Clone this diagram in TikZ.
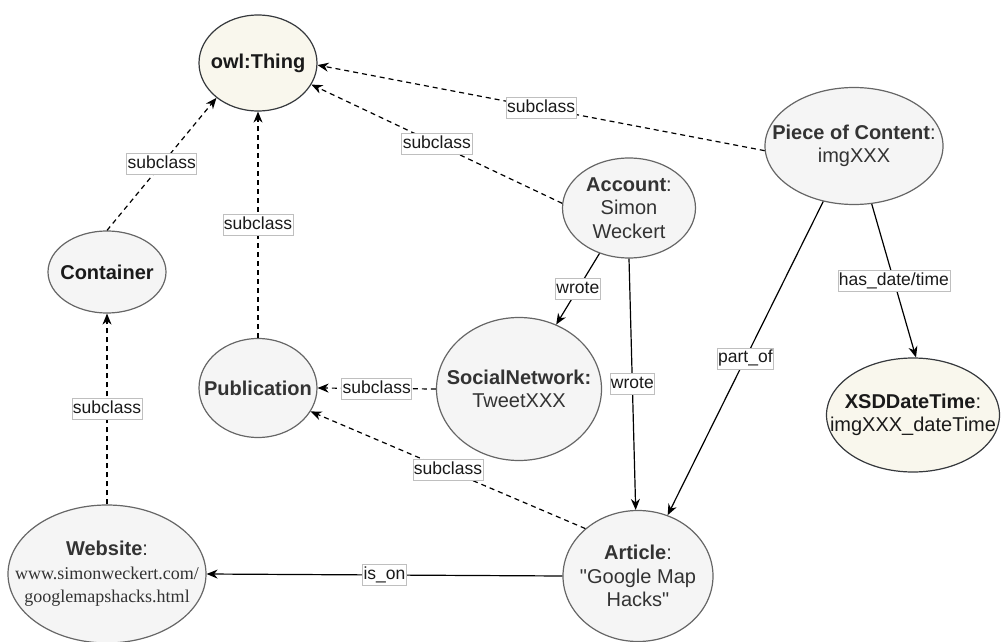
\documentclass[tikz,border=0pt]{standalone}
\usepackage{fontspec}
\setmainfont{Liberation Sans}
\newfontfamily\plainsans{Liberation Sans}
\newfontfamily\serifweb{Liberation Serif}
\usetikzlibrary{shapes.geometric,arrows.meta}
\definecolor{grayfill}{HTML}{F5F5F5}
\definecolor{graystroke}{HTML}{666666}
\definecolor{yelfill}{HTML}{F9F7ED}
\definecolor{yelstroke}{HTML}{36393D}
\definecolor{txtgray}{HTML}{333333}
\definecolor{labborder}{HTML}{BFBFBF}
\definecolor{labtext}{HTML}{1A1A1A}
\newcommand{\dq}{{\plainsans\symbol{34}}}
\begin{document}
\begin{tikzpicture}[x=1pt,y=-1pt,
  ent/.style={ellipse, draw=graystroke, fill=grayfill, line width=1.2pt, inner sep=-40pt,
    align=center, text=txtgray, font=\fontsize{20}{23.5}\selectfont},
  yent/.style={ent, draw=yelstroke, fill=yelfill, text=labtext},
  rel/.style={line width=1.2pt, -{Stealth[length=11pt,width=9pt,inset=3.5pt]}},
  sub/.style={rel, dash pattern=on 5pt off 4pt},
  lab/.style={fill=white, draw=labborder, line width=0.6pt, solid, inner xsep=1pt, inner ysep=2pt,
    text height=13pt, text depth=4pt, text=labtext, font=\fontsize{17.5}{20}\selectfont}]
\useasboundingbox (0,0) rectangle (1002,642);

\node[yent, minimum width=118pt, minimum height=96pt] (owl) at (258,63) {\textbf{owl:Thing}};
\node[ent, text=labtext, minimum width=118pt, minimum height=82pt] (cont) at (107,272) {\textbf{Container}};
\node[ent, minimum width=118pt, minimum height=99pt] (pub) at (258,388) {\textbf{Publication}};
\node[ent, minimum width=133pt, minimum height=100pt] (acc) at (629,208) {\textbf{Account}:\\Simon\\Weckert};
\node[ent, minimum width=178pt, minimum height=117pt] (poc) at (854,146) {\textbf{Piece of Content}:\\imgXXX};
\node[ent, minimum width=165pt, minimum height=143pt] (sn) at (519,389) {\textbf{SocialNetwork:}\\TweetXXX};
\node[yent, minimum width=173pt, minimum height=114pt] (xsd) at (913,415) {\textbf{XSDDateTime}:\\imgXXX\_dateTime};
\node[ent, minimum width=198pt, minimum height=138pt] (web) at (107,574) {\textbf{Website}:\\{\serifweb\fontsize{18}{23.5}\selectfont www.simonweckert.com/}\\{\serifweb\fontsize{18}{23.5}\selectfont googlemapshacks.html}};
\node[ent, minimum width=150pt, minimum height=131pt] (art) at (638,576) {\textbf{Article}:\\\dq Google Map\\Hacks\dq};

\draw[sub] (poc.183) -- node[lab]{subclass} (owl.358);
\draw[sub] (acc.176) -- node[lab]{subclass} (owl.338);
\draw[sub] (cont.north) -- node[lab]{subclass} (owl.220);
\draw[sub] (pub.north) -- node[lab]{subclass} (owl.south);
\draw[sub] (web.north) -- node[lab]{subclass} (cont.south);
\draw[sub] (sn.west) -- node[lab]{subclass} (pub.east);
\draw[sub] (art.138) -- node[lab]{subclass} (pub.336);
\draw[rel] (acc.237) -- node[lab]{wrote} (sn.60);
\draw[rel] (acc.south) -- node[lab]{wrote} (art.92);
\draw[rel] (poc.241) -- node[lab]{part\_of} (art.64);
\draw[rel] (poc.287) -- node[lab]{has\_date/time} (xsd.87);
\draw[rel] (art.west) -- node[lab]{is\_on} (web.east);
\end{tikzpicture}
\end{document}
